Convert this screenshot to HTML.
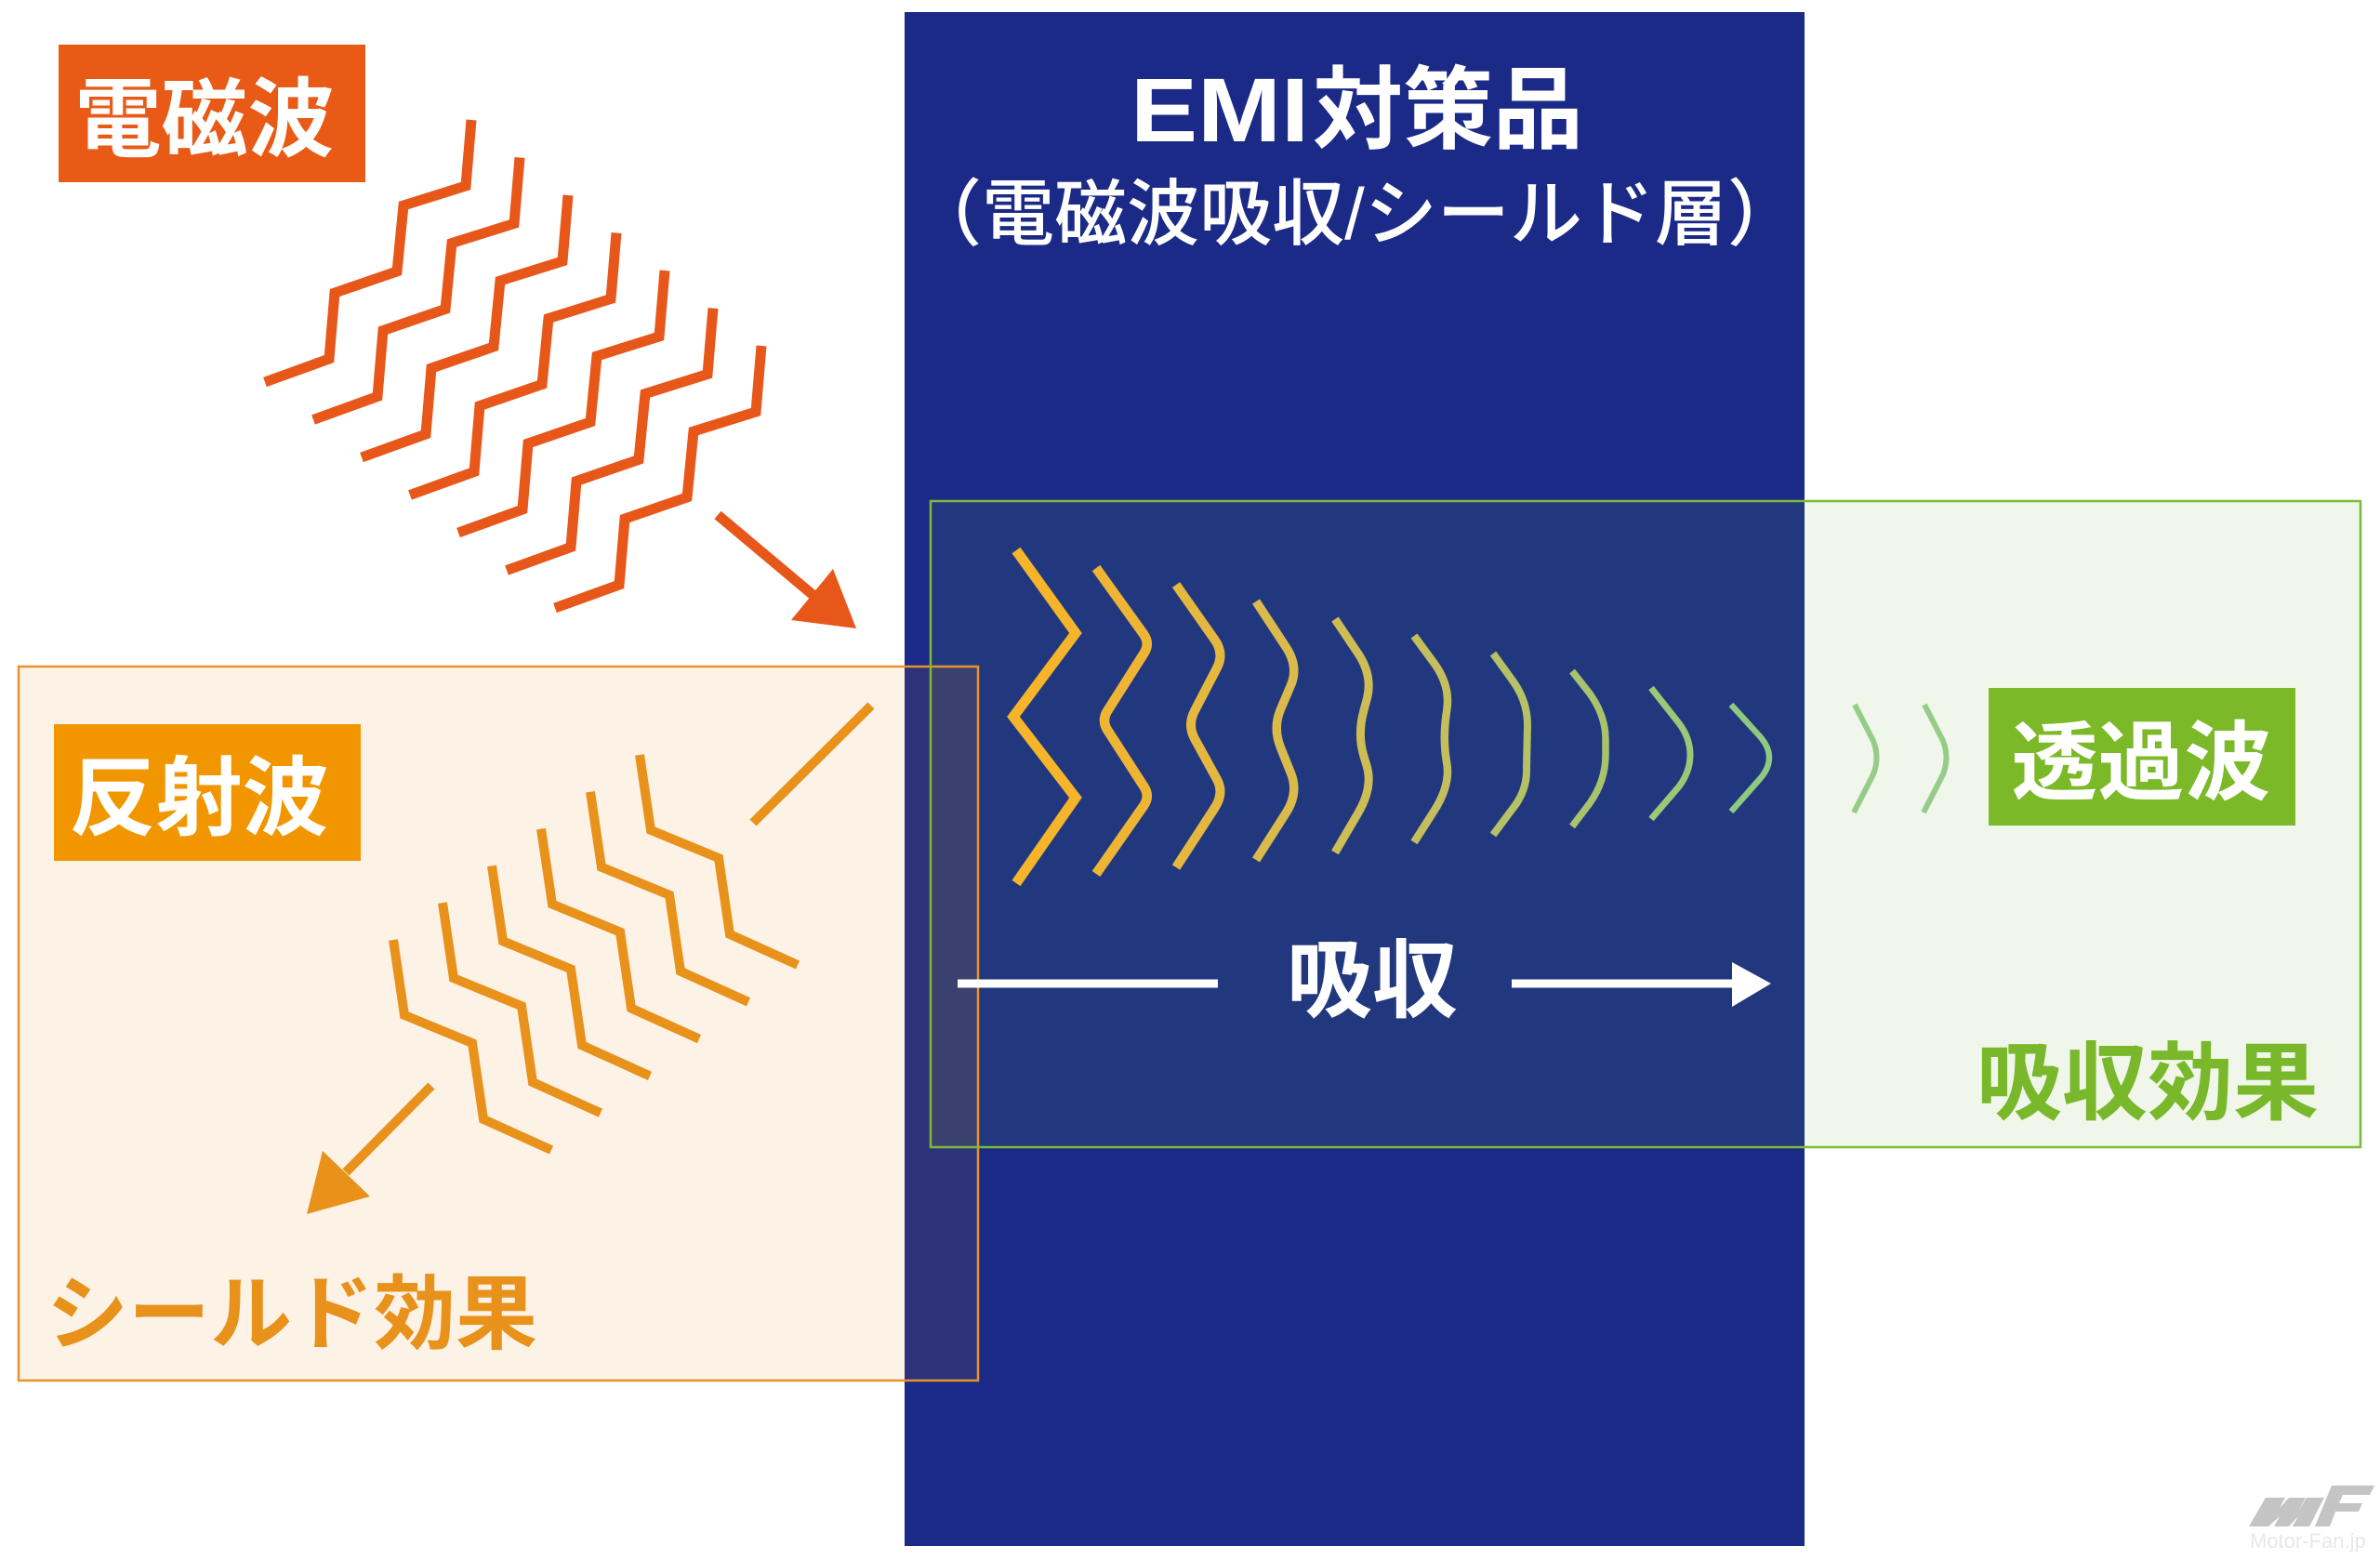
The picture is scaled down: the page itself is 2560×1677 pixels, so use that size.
<!DOCTYPE html>
<html>
<head>
<meta charset="utf-8">
<style>
html,body{margin:0;padding:0;background:#fff;}
svg{display:block;}
text{font-family:"Liberation Sans","Noto Sans CJK JP",sans-serif;}
</style>
</head>
<body>
<svg width="2560" height="1677" viewBox="0 0 2560 1677" xmlns="http://www.w3.org/2000/svg">
<rect x="0" y="0" width="2560" height="1677" fill="#ffffff"/>

<!-- green box outside panel -->
<rect x="1941" y="539" width="598" height="695" fill="#F0F6EA"/>
<!-- blue panel -->
<rect x="973" y="13" width="968" height="1650" fill="#1B2A86"/>
<!-- green overlap on blue -->
<rect x="1001" y="539" width="940" height="695" fill="#22387E"/>
<!-- orange box -->
<rect x="20" y="717" width="953" height="768" fill="#FCF2E6"/>
<rect x="973" y="717" width="79" height="768" fill="#2E3379"/>
<rect x="1001" y="717" width="51" height="517" fill="#3A416F"/>
<rect x="20" y="717" width="1032" height="768" fill="none" stroke="#E8922C" stroke-width="2.5"/>
<rect x="1001" y="539" width="1538" height="695" fill="none" stroke="#7CBA3A" stroke-width="2.5"/>

<!-- 電磁波 label -->
<rect x="63" y="48" width="330" height="148" fill="#E85A16"/>
<text x="220" y="161" font-size="93" font-weight="bold" fill="#ffffff" text-anchor="middle">電磁波</text>

<!-- incoming zigzags -->
<g fill="none" stroke="#E8571A" stroke-width="11" stroke-linejoin="miter">
<path d="M285,411 l69,-25 l6,-71 l67,-23 l7,-71 l67,-21 l6,-71"/>
<path d="M337,451.5 l69,-25 l6,-71 l67,-23 l7,-71 l67,-21 l6,-71"/>
<path d="M389,492 l69,-25 l6,-71 l67,-23 l7,-71 l67,-21 l6,-71"/>
<path d="M441,532.5 l69,-25 l6,-71 l67,-23 l7,-71 l67,-21 l6,-71"/>
<path d="M493,573 l69,-25 l6,-71 l67,-23 l7,-71 l67,-21 l6,-71"/>
<path d="M545,613.5 l69,-25 l6,-71 l67,-23 l7,-71 l67,-21 l6,-71"/>
<path d="M597,654 l69,-25 l6,-71 l67,-23 l7,-71 l67,-21 l6,-71"/>
<line x1="772" y1="554" x2="878" y2="643"/>
</g>
<polygon points="921,676 851,667 896,612" fill="#E8571A"/>

<!-- 反射波 label -->
<rect x="58" y="779" width="330" height="147" fill="#F29600"/>
<text x="214" y="891" font-size="93" font-weight="bold" fill="#ffffff" text-anchor="middle">反射波</text>

<!-- reflected waves -->
<g fill="none" stroke="#E9921B" stroke-width="10" stroke-linejoin="miter">
<line x1="810" y1="885" x2="937" y2="759"/>
<path d="M423,1011 l12,81 l73,30 l12,82 l73,33"/>
<path d="M476,971.2 l12,81 l73,30 l12,82 l73,33"/>
<path d="M529,931.4 l12,81 l73,30 l12,82 l73,33"/>
<path d="M582,891.6 l12,81 l73,30 l12,82 l73,33"/>
<path d="M635,851.8 l12,81 l73,30 l12,82 l73,33"/>
<path d="M688,812 l12,81 l73,30 l12,82 l73,33"/>
<line x1="464" y1="1168" x2="372" y2="1261"/>
</g>
<polygon points="330,1306 347,1238 398,1287" fill="#E9921B"/>

<text x="314" y="1444" font-size="88" font-weight="bold" fill="#E8921C" text-anchor="middle">シールド効果</text>

<!-- title -->
<text x="1216" y="152" font-size="97" font-weight="bold" fill="#ffffff" textLength="192" lengthAdjust="spacingAndGlyphs">EMI</text>
<text x="1412" y="152" font-size="97" font-weight="bold" fill="#ffffff">対策品</text>
<text x="1457" y="257" font-size="78" font-weight="500" fill="#ffffff" text-anchor="middle">（電磁波吸収/シールド層）</text>

<!-- absorption waves -->
<g fill="none" stroke-linecap="butt">
<path d="M1093,592 L1157,681 L1090,771 L1157,858 L1093,950" stroke="#F6B42B" stroke-width="11" stroke-linejoin="miter"/>
<path d="M1179,611 L1230,682 Q1237,692 1231,702 L1191,765 Q1185,775 1191,785 L1231,847 Q1237,857 1230,867 L1179,940" stroke="#EEB434" stroke-width="10.5"/>
<path d="M1265,629 L1306.6,688.2 Q1317,703 1309,718.4 L1285,764.6 Q1277,780 1285,794.6 L1309,838.4 Q1317,853 1306.6,869 L1265,933" stroke="#E4B83F" stroke-width="10"/>
<path d="M1351,647 L1383.2,696 Q1397,717 1388.6,736.8 L1377.4,763.2 Q1369,783 1377.4,804 L1388.6,832 Q1397,853 1383.2,874.6 L1351,925" stroke="#D9BA4A" stroke-width="9.5"/>
<path d="M1436,666 L1460.6,702.6 Q1477,727 1470.2,752.2 L1466.8,764.8 Q1460,790 1466.8,812.8 L1470.2,824.2 Q1477,847 1460.6,875 L1436,917" stroke="#CEBC55" stroke-width="9"/>
<path d="M1521,684 L1542.4,713.1 Q1560,737 1556.4,762.7 L1555.6,768.3 Q1552,794 1555.6,817 L1556.4,822 Q1560,845 1542.4,872.5 L1521,906" stroke="#C4BE5C" stroke-width="8.5"/>
<path d="M1606,703 L1627,732 Q1643,754 1643,780 L1642,826 Q1643,850 1627,870 L1606,898" stroke="#B6C064" stroke-width="8"/>
<path d="M1691,722 L1710,746 Q1727,770 1727,795 L1727,812 Q1727,840 1710,864 L1691,889" stroke="#A8C36C" stroke-width="7.5"/>
<path d="M1776,740 L1806,778 Q1818,794 1818,812 Q1818,830 1806,846 L1776,881" stroke="#9BC776" stroke-width="7"/>
<path d="M1862,758 L1892,791 Q1903,803 1903,815 Q1903,827 1892,839 L1862,873" stroke="#8FC97F" stroke-width="6.5"/>
<path d="M1995,758 L2015,797 Q2022,815 2015,833 L1994,874" stroke="#95CC88" stroke-width="6"/>
<path d="M2070,758 L2090,797 Q2097,815 2090,833 L2069,874" stroke="#95CC88" stroke-width="6"/>
</g>

<!-- 吸収 arrow -->
<rect x="1030" y="1053.5" width="280" height="9" fill="#ffffff"/>
<rect x="1626" y="1053.5" width="240" height="9" fill="#ffffff"/>
<polygon points="1863,1035 1905,1058 1863,1083" fill="#ffffff"/>
<text x="1476" y="1087" font-size="92" font-weight="bold" fill="#ffffff" text-anchor="middle">吸収</text>

<!-- 透過波 label -->
<rect x="2139" y="740" width="330" height="148" fill="#7BB928"/>
<text x="2303" y="853" font-size="93" font-weight="bold" fill="#ffffff" text-anchor="middle">透過波</text>

<text x="2310" y="1197" font-size="92" font-weight="bold" fill="#78B82A" text-anchor="middle">吸収効果</text>

<!-- watermark -->
<g fill="#C4C4C4">
<polygon points="2419,1642 2437,1611 2458,1611 2452,1622 2462,1611 2480,1611 2472,1626 2481,1611 2500,1611 2484,1642 2466,1642 2472,1631 2462,1642 2446,1642 2452,1631 2440,1642"/>
<polygon points="2490,1642 2508,1598 2554,1598 2549,1608 2520,1608 2516,1617 2541,1617 2537,1626 2512,1626 2506,1642"/>
</g>
<text x="2420" y="1665" font-size="22" fill="#E8E8E8">Motor-Fan.jp</text>
</svg>
</body>
</html>
